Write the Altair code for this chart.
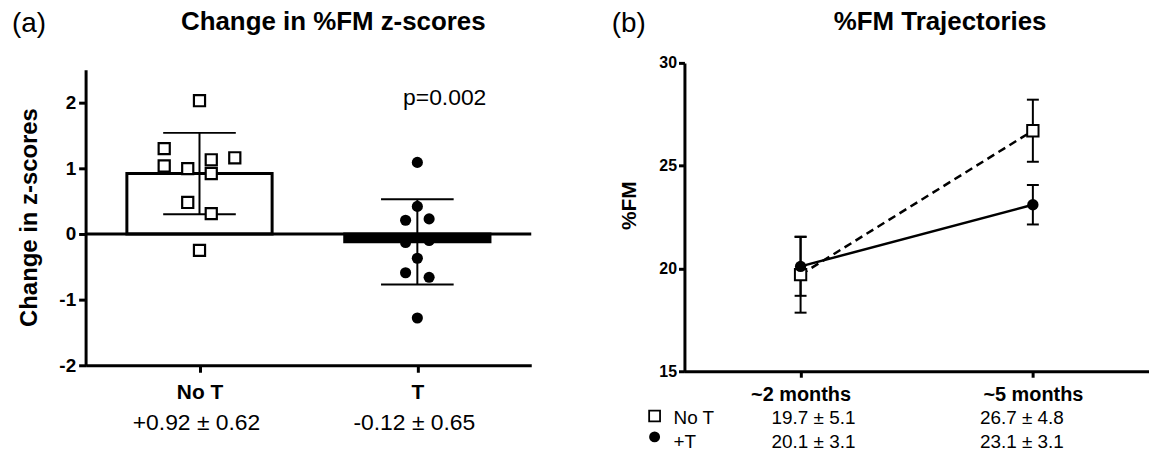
import altair as alt
import pandas as pd

FONT = "Liberation Sans"

# ---------------- Panel (a) data ----------------
groups_a = ["No T", "T"]
pos_a = [1, 2]
mean_a = [0.92, -0.12]
sd_a = [0.62, 0.65]
stats_a = ["+0.92 \u00b1 0.62", "-0.12 \u00b1 0.65"]
not_change = [2.03, 1.30, 1.035, 0.995, 1.13, 0.92, 1.16, 0.48, 0.31, -0.25]
not_slot = [0, -3, -3, -1, 1, 1, 3, -1, 1, 0]
t_change = [1.09, 0.42, 0.21, 0.23, -0.13, -0.10, -0.37, -0.59, -0.66, -1.28]
t_slot = [0, 0, -1, 1, -1, 1, 0, -1, 1, 0]
p_label = "p=0.002"

# ---------------- Panel (b) data ----------------
times_b = ["~2 months", "~5 months"]
pos_b = [1, 2]
series_b = ["No T", "+T"]
not_mean_b = [19.7, 26.7]
not_err_b = [1.85, 1.51]
t_mean_b = [20.1, 23.1]
t_err_b = [1.43, 0.96]
not_stats_b = ["19.7 \u00b1 5.1", "26.7 \u00b1 4.8"]
t_stats_b = ["20.1 \u00b1 3.1", "23.1 \u00b1 3.1"]

# ---------------- tables ----------------
bars_a = pd.DataFrame({
    "group": groups_a, "pos": pos_a, "mean": mean_a,
    "lo": [m - s for m, s in zip(mean_a, sd_a)],
    "hi": [m + s for m, s in zip(mean_a, sd_a)],
    "stats": stats_a,
})
pts_a = pd.DataFrame({
    "group": ["No T"] * len(not_change) + ["T"] * len(t_change),
    "pos": [1] * len(not_change) + [2] * len(t_change),
    "value": not_change + t_change,
    "slot": not_slot + t_slot,
})

rows_b = []
for s, means, errs, stats in [("No T", not_mean_b, not_err_b, not_stats_b),
                              ("+T", t_mean_b, t_err_b, t_stats_b)]:
    for p, t, m, e, st in zip(pos_b, times_b, means, errs, stats):
        rows_b.append({"series": s, "pos": p, "time": t, "mean": m,
                       "lo": m - e, "hi": m + e, "stats": st})
df_b = pd.DataFrame(rows_b)

# ---------------- Panel (a) ----------------
WA, HA = 448, 304
xs_a = alt.Scale(domain=[0.5, 2.5], nice=False, zero=False)
ys_a = alt.Scale(domain=[-2, 2.5], nice=False, zero=False, range=[304, 7])

label_expr_a = "datum.value == 1 ? '%s' : '%s'" % (groups_a[0], groups_a[1])
xaxis_a = alt.Axis(values=[1, 2], labelExpr=label_expr_a, title=None, grid=False,
                   domainWidth=3, domainColor="black", tickWidth=3, tickSize=7,
                   tickColor="black", labelFont=FONT, labelFontSize=21,
                   labelFontWeight="bold", labelColor="black", labelPadding=9)
yaxis_a = alt.Axis(values=[-2, -1, 0, 1, 2], labelExpr="'' + datum.value",
                   title="Change in z-scores", grid=False,
                   domainWidth=3, domainColor="black", tickWidth=3, tickSize=7,
                   tickColor="black", labelFont=FONT, labelFontSize=19,
                   labelFontWeight="bold", labelColor="black", labelPadding=3,
                   titleFont=FONT, titleFontSize=24, titleFontWeight="bold",
                   titleColor="black", titleX=-56, titleY=155, titleBaseline="middle")


def xa(field):
    return alt.X(field, scale=xs_a, axis=xaxis_a)


def ya(field):
    return alt.Y(field, scale=ys_a, axis=yaxis_a)


base_a = alt.Chart(bars_a)
bar_a = base_a.mark_bar(size=146, orient="vertical", stroke="black", strokeWidth=3).encode(
    x=xa("pos:Q"), y=ya("mean:Q"),
    fill=alt.Fill("group:N", scale=alt.Scale(domain=groups_a, range=["white", "black"]), legend=None),
)
zero_a = alt.Chart(pd.DataFrame({"z": [0]})).mark_rule(color="black", strokeWidth=3).encode(
    y=ya("z:Q"), x=alt.value(0), x2=alt.value(WA))
err_a = base_a.mark_rule(color="black", strokeWidth=2).encode(
    x=xa("pos:Q"), y=ya("lo:Q"), y2="hi:Q")
caplo_a = base_a.mark_tick(orient="horizontal", size=73, thickness=2, color="black", opacity=1).encode(
    x=xa("pos:Q"), y=ya("lo:Q"))
caphi_a = base_a.mark_tick(orient="horizontal", size=73, thickness=2, color="black", opacity=1).encode(
    x=xa("pos:Q"), y=ya("hi:Q"))

pts_base = alt.Chart(pts_a).transform_calculate(xj="datum.pos + datum.slot * 0.054")
sq_a = pts_base.transform_filter("datum.group == 'No T'").mark_point(
    shape="square", size=125, filled=True, fill="white", stroke="black", strokeWidth=2.2, opacity=1
).encode(x=xa("xj:Q"), y=ya("value:Q"))
ci_a = pts_base.transform_filter("datum.group == 'T'").mark_circle(
    size=125, color="black", opacity=1
).encode(x=xa("xj:Q"), y=ya("value:Q"))

stats_txt_a = base_a.mark_text(font=FONT, fontSize=23, color="black", baseline="middle", dx=-3).encode(
    x=xa("pos:Q"), y=alt.value(362), text="stats:N")
p_txt = alt.Chart(pd.DataFrame({"t": [p_label]})).mark_text(
    font=FONT, fontSize=23, color="black", baseline="middle", align="center"
).encode(x=alt.value(361), y=alt.value(35), text="t:N")
title_a = alt.Chart(pd.DataFrame({"t": ["Change in %FM z-scores"]})).mark_text(
    font=FONT, fontSize=26, fontWeight="bold", color="black", baseline="middle", align="center"
).encode(x=alt.value(249), y=alt.value(-41), text="t:N")
tag_a = alt.Chart(pd.DataFrame({"t": ["(a)"]})).mark_text(
    font=FONT, fontSize=28, color="black", baseline="middle", align="left"
).encode(x=alt.value(-74), y=alt.value(-39), text="t:N")

panel_a = alt.layer(bar_a, zero_a, err_a, caplo_a, caphi_a, sq_a, ci_a,
                    stats_txt_a, p_txt, title_a, tag_a).properties(width=WA, height=HA)

# ---------------- Panel (b) ----------------
WB, HB = 467, 310
xs_b = alt.Scale(domain=[0.5, 2.5], nice=False, zero=False)
ys_b = alt.Scale(domain=[15, 30], nice=False, zero=False)
label_expr_b = "datum.value == 1 ? '%s' : '%s'" % (times_b[0], times_b[1])
xaxis_b = alt.Axis(values=[1, 2], labelExpr=label_expr_b, title=None, grid=False,
                   domainWidth=3, domainColor="black", tickWidth=3, tickSize=6,
                   tickColor="black", labelFont=FONT, labelFontSize=20,
                   labelFontWeight="bold", labelColor="black", labelPadding=7)
yaxis_b = alt.Axis(values=[15, 20, 25, 30], title="%FM", grid=False,
                   domainWidth=3, domainColor="black", tickWidth=3, tickSize=6,
                   tickColor="black", labelFont=FONT, labelFontSize=16,
                   labelFontWeight="bold", labelColor="black", labelPadding=2,
                   titleFont=FONT, titleFontSize=21, titleFontWeight="bold",
                   titleColor="black", titleX=-55, titleY=143, titleBaseline="middle")


def xb(field):
    return alt.X(field, scale=xs_b, axis=xaxis_b)


def yb(field):
    return alt.Y(field, scale=ys_b, axis=yaxis_b)


base_b = alt.Chart(df_b)
line_not = base_b.transform_filter("datum.series == 'No T'").mark_line(
    color="black", strokeWidth=2.5, strokeDash=[8, 5]
).encode(x=xb("pos:Q"), y=yb("mean:Q"))
line_t = base_b.transform_filter("datum.series == '+T'").mark_line(
    color="black", strokeWidth=2.5
).encode(x=xb("pos:Q"), y=yb("mean:Q"))
err_b = base_b.mark_rule(color="black", strokeWidth=2).encode(
    x=xb("pos:Q"), y=yb("lo:Q"), y2="hi:Q")
caplo_b = base_b.mark_tick(orient="horizontal", size=12, thickness=2, color="black", opacity=1).encode(
    x=xb("pos:Q"), y=yb("lo:Q"))
caphi_b = base_b.mark_tick(orient="horizontal", size=12, thickness=2, color="black", opacity=1).encode(
    x=xb("pos:Q"), y=yb("hi:Q"))
sq_b = base_b.transform_filter("datum.series == 'No T'").mark_point(
    shape="square", size=130, filled=True, fill="white", stroke="black", strokeWidth=2, opacity=1
).encode(x=xb("pos:Q"), y=yb("mean:Q"))
ci_b = base_b.transform_filter("datum.series == '+T'").mark_circle(
    size=130, color="black", opacity=1
).encode(x=xb("pos:Q"), y=yb("mean:Q"))

table_layers = []
for s, yrow in [("No T", 357), ("+T", 381)]:
    for p, dxc in [(1, 13), (2, -11)]:
        table_layers.append(
            base_b.transform_filter("datum.series == '%s' && datum.pos == %d" % (s, p)).mark_text(
                font=FONT, fontSize=19, color="black", baseline="middle", align="center", dx=dxc
            ).encode(x=xb("pos:Q"), y=alt.value(yrow), text="stats:N"))

legend_df = pd.DataFrame({"series": series_b})
leg_sq = alt.Chart(legend_df).transform_filter("datum.series == 'No T'").mark_point(
    shape="square", size=120, filled=True, fill="white", stroke="black", strokeWidth=1.8, opacity=1
).encode(x=alt.value(-30), y=alt.value(355))
leg_ci = alt.Chart(legend_df).transform_filter("datum.series == '+T'").mark_circle(
    size=120, color="black", opacity=1).encode(x=alt.value(-30), y=alt.value(376))
leg_t1 = alt.Chart(legend_df).transform_filter("datum.series == 'No T'").mark_text(
    font=FONT, fontSize=19, color="black", baseline="middle", align="left"
).encode(x=alt.value(-11), y=alt.value(357), text="series:N")
leg_t2 = alt.Chart(legend_df).transform_filter("datum.series == '+T'").mark_text(
    font=FONT, fontSize=19, color="black", baseline="middle", align="left"
).encode(x=alt.value(-11), y=alt.value(381), text="series:N")

title_b = alt.Chart(pd.DataFrame({"t": ["%FM Trajectories"]})).mark_text(
    font=FONT, fontSize=26, fontWeight="bold", color="black", baseline="middle", align="center"
).encode(x=alt.value(257), y=alt.value(-41), text="t:N")
tag_b = alt.Chart(pd.DataFrame({"t": ["(b)"]})).mark_text(
    font=FONT, fontSize=28, color="black", baseline="middle", align="left"
).encode(x=alt.value(-73), y=alt.value(-39), text="t:N")

panel_b = alt.layer(line_not, line_t, err_b, caplo_b, caphi_b, sq_b, ci_b,
                    *table_layers, leg_sq, leg_ci, leg_t1, leg_t2, title_b, tag_b
                    ).properties(width=WB, height=HB)

chart = alt.hconcat(panel_a, panel_b, spacing=154, bounds="flush").properties(
    padding={"left": 4, "top": 0, "right": 0, "bottom": 0}, background="white"
).configure_view(stroke=None)

chart.save("out.html", embed_options={"renderer": "svg", "actions": False})
